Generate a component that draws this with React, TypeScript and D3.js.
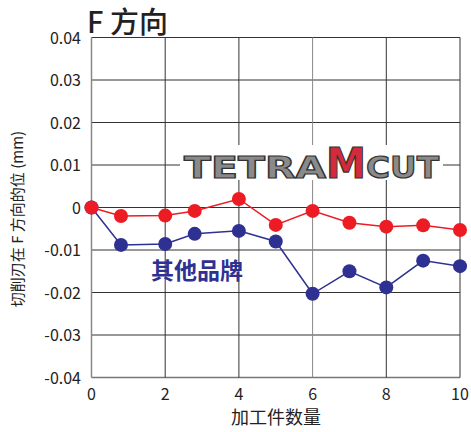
import React, { useRef, useEffect } from 'react';
import { select, scaleLinear, line } from 'd3';

const xValues = [0, 0.8, 2, 2.8, 4, 5, 6, 7, 8, 9, 10];
const tetraValues = [0, -0.002, -0.0019, -0.0008, 0.002, -0.0041, -0.0008, -0.0036, -0.0045, -0.0042, -0.0053];
const otherValues = [0, -0.0088, -0.0086, -0.0062, -0.0055, -0.008, -0.0203, -0.015, -0.0188, -0.0125, -0.0138];
const xTicks = [0, 2, 4, 6, 8, 10];
const yTicks = [0.04, 0.03, 0.02, 0.01, 0, -0.01, -0.02, -0.03, -0.04];
const yTickLabels = ['0.04', '0.03', '0.02', '0.01', '0', '-0.01', '-0.02', '-0.03', '-0.04'];

const FONT = '"Noto Sans CJK SC", "Noto Sans", sans-serif';
const RED = '#ed1c24';
const BLUE = '#2e3192';

const App = () => {
  const svgRef = useRef(null);

  useEffect(() => {
    const svg = select(svgRef.current);
    svg.selectAll('*').remove();

    const xScale = scaleLinear().domain([0, 10]).range([91.5, 460]);
    const yScale = scaleLinear().domain([-0.04, 0.04]).range([377.5, 37.5]);

    const grid = svg.append('g');
    // horizontal grid lines
    grid
      .selectAll('.hgrid')
      .data(yTicks)
      .join('line')
      .attr('x1', xScale(0))
      .attr('x2', xScale(10))
      .attr('y1', (d) => yScale(d))
      .attr('y2', (d) => yScale(d))
      .attr('stroke', (d) => (d === -0.04 ? '#777' : '#333'))
      .attr('stroke-width', (d) => (d === -0.04 ? 1.5 : 1));
    // vertical grid lines
    grid
      .selectAll('.vgrid')
      .data(xTicks)
      .join('line')
      .attr('x1', (d) => xScale(d))
      .attr('x2', (d) => xScale(d))
      .attr('y1', yScale(0.04))
      .attr('y2', yScale(-0.04))
      .attr('stroke', (d) => (d === 0 || d === 6 ? '#888' : '#333'))
      .attr('stroke-width', (d) => (d === 0 ? 1.5 : 1));

    // logo box
    const logo = svg.append('g');
    logo
      .append('rect')
      .attr('x', 180)
      .attr('y', 145)
      .attr('width', 263)
      .attr('height', 35)
      .attr('fill', 'white');
    const logoText = logo
      .append('text')
      .attr('y', 178)
      .attr('font-family', '"DejaVu Sans", sans-serif')
      .attr('font-weight', 'bold')
      .attr('stroke', '#333')
      .attr('stroke-width', 1.2);
    logoText
      .append('tspan')
      .attr('x', 184)
      .attr('font-size', 30)
      .attr('fill', '#8a8a8a')
      .attr('textLength', 142)
      .attr('lengthAdjust', 'spacingAndGlyphs')
      .text('TETRA');
    logoText
      .append('tspan')
      .attr('x', 326)
      .attr('font-size', 42)
      .attr('fill', '#d42a3c')
      .attr('textLength', 40)
      .attr('lengthAdjust', 'spacingAndGlyphs')
      .text('M');
    logoText
      .append('tspan')
      .attr('x', 366)
      .attr('font-size', 30)
      .attr('fill', '#8a8a8a')
      .attr('textLength', 73)
      .attr('lengthAdjust', 'spacingAndGlyphs')
      .text('CUT');

    const myLine = line()
      // @ts-ignore
      .x((d) => xScale(d[0]))
      // @ts-ignore
      .y((d) => yScale(d[1]));

    const series = [
      { values: otherValues, color: BLUE },
      { values: tetraValues, color: RED },
    ];

    series.forEach((s) => {
      const pts = xValues.map((x, i) => [x, s.values[i]]);
      svg
        .append('path')
        // @ts-ignore
        .attr('d', myLine(pts))
        .attr('fill', 'none')
        .attr('stroke', s.color)
        .attr('stroke-width', 1.5);
      svg
        .append('g')
        .selectAll('circle')
        .data(pts)
        .join('circle')
        .attr('cx', (d) => xScale(d[0]))
        .attr('cy', (d) => yScale(d[1]))
        .attr('r', 7)
        .attr('fill', s.color);
    });

    // y tick labels
    svg
      .append('g')
      .selectAll('text')
      .data(yTicks)
      .join('text')
      .attr('x', 81)
      .attr('y', (d) => yScale(d) + 6)
      .attr('text-anchor', 'end')
      .attr('font-family', FONT)
      .attr('font-size', 16)
      .attr('fill', '#222')
      .text((d, i) => yTickLabels[i]);

    // x tick labels
    svg
      .append('g')
      .selectAll('text')
      .data(xTicks)
      .join('text')
      .attr('x', (d) => xScale(d))
      .attr('y', 400)
      .attr('text-anchor', 'middle')
      .attr('font-family', FONT)
      .attr('font-size', 16)
      .attr('fill', '#222')
      .text((d) => String(d));

    svg
      .append('text')
      .attr('x', 276)
      .attr('y', 424)
      .attr('text-anchor', 'middle')
      .attr('font-family', FONT)
      .attr('font-size', 18)
      .attr('fill', '#222')
      .text('加工件数量');

    svg
      .append('text')
      .attr('transform', 'translate(23,219) rotate(-90)')
      .attr('text-anchor', 'middle')
      .attr('font-family', FONT)
      .attr('font-size', 15)
      .attr('fill', '#222')
      .text('切削刃在 F 方向的位 (mm)');

    svg
      .append('text')
      .attr('x', 87)
      .attr('y', 33)
      .attr('font-family', FONT)
      .attr('font-size', 29)
      .attr('font-weight', 500)
      .attr('fill', '#222')
      .text('F 方向');

    svg
      .append('text')
      .attr('x', 151)
      .attr('y', 279)
      .attr('font-family', FONT)
      .attr('font-size', 23)
      .attr('font-weight', 'bold')
      .attr('fill', BLUE)
      .text('其他品牌');
  }, []);

  return (
    <svg
      ref={svgRef}
      width={471}
      height={432}
      style={{ position: 'absolute', left: 0, top: 0, background: 'white' }}
    />
  );
};

export default App;
